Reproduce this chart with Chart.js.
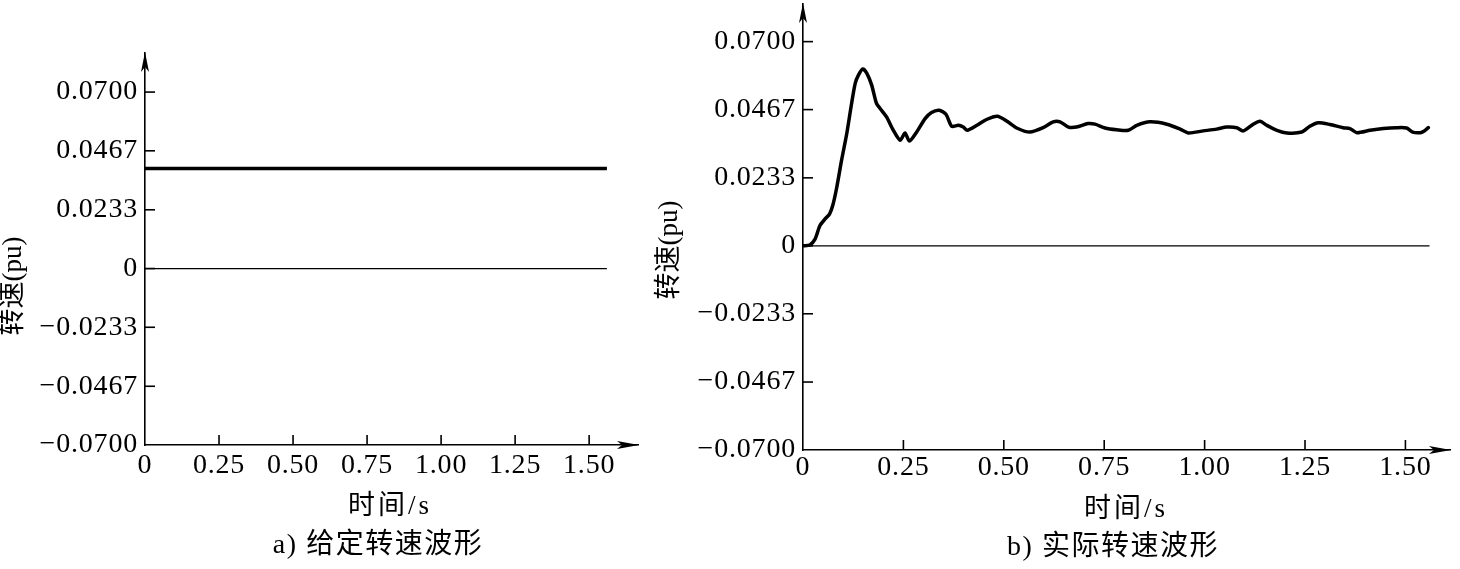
<!DOCTYPE html>
<html><head><meta charset="utf-8">
<script src="https://cdn.jsdelivr.net/npm/chart.js@4.4.1/dist/chart.umd.min.js"></script>
<style>
html,body{margin:0;padding:0;background:#fff;width:1460px;height:569px;overflow:hidden}
#a{position:absolute;left:0;top:0}
#b{position:absolute;left:650px;top:0}
</style></head><body>
<canvas id="a" width="650" height="569"></canvas>
<canvas id="b" width="810" height="569"></canvas>
<script>
// ---- data ----
const yTickValues = [-0.07, -0.0467, -0.0233, 0, 0.0233, 0.0467, 0.07];
const yTickLabels = ['\u22120.0700', '\u22120.0467', '\u22120.0233', '0', '0.0233', '0.0467', '0.0700'];
const xTickValues = [0, 0.25, 0.5, 0.75, 1.0, 1.25, 1.5];
const xTickLabels = ['0', '0.25', '0.50', '0.75', '1.00', '1.25', '1.50'];

const refTime = [0, 1.56];
const refSpeed = [0.0397, 0.0397];
const zeroTime = [0, 1.56];
const zeroSpeed = [0, 0];

const actTime = [0,0.017,0.03,0.042,0.055,0.066,0.074,0.084,0.096,0.109,0.121,0.13,0.138,0.149,0.159,0.171,0.183,0.192,0.208,0.225,0.242,0.254,0.265,0.283,0.304,0.32,0.339,0.356,0.37,0.387,0.399,0.409,0.433,0.457,0.484,0.507,0.532,0.565,0.598,0.623,0.64,0.661,0.681,0.71,0.727,0.752,0.781,0.81,0.831,0.864,0.906,0.939,0.959,0.997,1.03,1.055,1.08,1.096,1.121,1.138,1.155,1.18,1.205,1.242,1.262,1.283,1.312,1.345,1.362,1.379,1.412,1.445,1.478,1.503,1.518,1.537,1.547,1.557];
const actSpeed = [0,0.0003,0.0023,0.0069,0.0092,0.0109,0.0138,0.020,0.0293,0.0385,0.0488,0.0557,0.0585,0.0606,0.0591,0.0551,0.0488,0.0471,0.0442,0.0396,0.0362,0.0387,0.0359,0.039,0.0436,0.0457,0.0465,0.0451,0.041,0.0413,0.0407,0.0396,0.0413,0.0433,0.0444,0.0428,0.0404,0.039,0.0405,0.0425,0.0425,0.0407,0.0407,0.0419,0.0417,0.0404,0.0398,0.0396,0.0413,0.0425,0.0417,0.04,0.0387,0.0394,0.04,0.0407,0.0405,0.0394,0.0417,0.0427,0.0413,0.0396,0.0387,0.039,0.041,0.0422,0.0416,0.0405,0.0402,0.0388,0.0396,0.0402,0.0405,0.0404,0.039,0.0388,0.0394,0.0405];

const yTitle = '转速(pu)';
const xTitle = '时间/s';
const captionA = 'a) 给定转速波形';
const captionB = 'b) 实际转速波形';

// ---- drawing ----
const FAM = "'Liberation Serif','Times New Roman','Noto Sans CJK SC',serif";
const pts = (xs, ys) => xs.map((t, i) => ({x: t, y: ys[i]}));

const axisDeco = {
  id: 'axisDeco',
  beforeDraw(chart) {
    chart.ctx.letterSpacing = '0.8px';
  },
  afterDraw(chart, args, o) {
    const {ctx, chartArea: a, scales: {x, y}} = chart;
    ctx.save();
    ctx.strokeStyle = '#000';
    ctx.fillStyle = '#000';
    ctx.lineWidth = 1.6;
    x.ticks.forEach(t => {
      if (t.value === 0) return;
      const px = x.getPixelForValue(t.value);
      ctx.beginPath(); ctx.moveTo(px, a.bottom); ctx.lineTo(px, a.bottom - o.tick); ctx.stroke();
    });
    y.ticks.forEach(t => {
      if (t.value === yTickValues[0]) return;
      const py = y.getPixelForValue(t.value);
      ctx.beginPath(); ctx.moveTo(a.left, py); ctx.lineTo(a.left + o.tick, py); ctx.stroke();
    });
    // arrow heads
    ctx.beginPath();
    ctx.moveTo(a.left, a.top - 1);
    ctx.lineTo(a.left - 4, a.top + 19);
    ctx.lineTo(a.left, a.top + 14);
    ctx.lineTo(a.left + 4, a.top + 19);
    ctx.closePath(); ctx.fill();
    ctx.beginPath();
    ctx.moveTo(a.right + 1, a.bottom);
    ctx.lineTo(a.right - 21, a.bottom - 4);
    ctx.lineTo(a.right - 16, a.bottom);
    ctx.lineTo(a.right - 21, a.bottom + 4);
    ctx.closePath(); ctx.fill();
    // texts
    ctx.textBaseline = 'middle';
    ctx.textAlign = 'center';
    o.texts.forEach(t => {
      ctx.save();
      ctx.font = t.size + 'px ' + FAM;
      ctx.letterSpacing = (t.ls || 0) + 'px';
      ctx.translate(t.x, t.y);
      if (t.rot) ctx.rotate(t.rot);
      ctx.fillText(t.text, 0, 0);
      ctx.restore();
    });
    ctx.restore();
  }
};

function makeChart(id, datasets, cfg) {
  return new Chart(document.getElementById(id), {
    type: 'line',
    data: {datasets},
    plugins: [axisDeco],
    options: {
      responsive: false, animation: false, devicePixelRatio: 1,
      layout: {padding: {left: 0, top: cfg.top, right: cfg.right, bottom: 0}},
      plugins: {
        legend: {display: false}, tooltip: {enabled: false}, title: {display: false},
        axisDeco: {tick: 10, texts: cfg.texts}
      },
      elements: {point: {radius: 0}},
      scales: {
        x: {
          type: 'linear', min: 0, max: cfg.xmax,
          afterFit(s) { s.height = cfg.xh; s.paddingLeft = 0; s.paddingRight = 0; },
          afterBuildTicks(s) { s.ticks = xTickValues.map(v => ({value: v})); },
          ticks: {
            autoSkip: false, maxRotation: 0, padding: cfg.xpad, color: '#000',
            font: {family: FAM, size: 28},
            callback: v => { const i = xTickValues.indexOf(v); return i >= 0 ? xTickLabels[i] : ''; }
          },
          grid: {display: false, drawTicks: false},
          border: {display: true, color: '#000', width: 1.6}
        },
        y: {
          type: 'linear', min: yTickValues[0], max: cfg.ymax,
          afterFit(s) { s.width = cfg.yw; s.paddingTop = 0; s.paddingBottom = 0; },
          afterBuildTicks(s) { s.ticks = yTickValues.map(v => ({value: v})); },
          ticks: {
            autoSkip: false, padding: 7, color: '#000',
            font: {family: FAM, size: 28},
            callback: v => { const i = yTickValues.indexOf(v); return i >= 0 ? yTickLabels[i] : ''; }
          },
          grid: {display: false, drawTicks: false},
          border: {display: true, color: '#000', width: 1.6}
        }
      }
    }
  });
}

makeChart('a', [
  {data: pts(zeroTime, zeroSpeed), borderColor: '#000', borderWidth: 1.2, tension: 0},
  {data: pts(refTime, refSpeed), borderColor: '#000', borderWidth: 3.5, tension: 0}
], {
  top: 53, right: 12, xh: 124, yw: 145, xmax: 1.665, ymax: 0.0855, xpad: 4,
  texts: [
    {text: yTitle, x: 14, y: 286, rot: -Math.PI / 2, size: 27},
    {text: xTitle, x: 390, y: 507, size: 27, ls: 3},
    {text: captionA, x: 378, y: 546, size: 28, ls: 1.5}
  ]
});

makeChart('b', [
  {data: pts(zeroTime, zeroSpeed), borderColor: '#000', borderWidth: 1.2, tension: 0},
  {data: pts(actTime, actSpeed), borderColor: '#000', borderWidth: 3.5, tension: 0.25, borderJoinStyle: 'round', borderCapStyle: 'round'}
], {
  top: 4, right: 10, xh: 119, yw: 153, xmax: 1.611, ymax: 0.0829, xpad: 1,
  texts: [
    {text: yTitle, x: 20, y: 250, rot: -Math.PI / 2, size: 27},
    {text: xTitle, x: 1126 - 650, y: 510, size: 27, ls: 3},
    {text: captionB, x: 1113 - 650, y: 548, size: 28, ls: 1.5}
  ]
});
</script>
</body></html>
